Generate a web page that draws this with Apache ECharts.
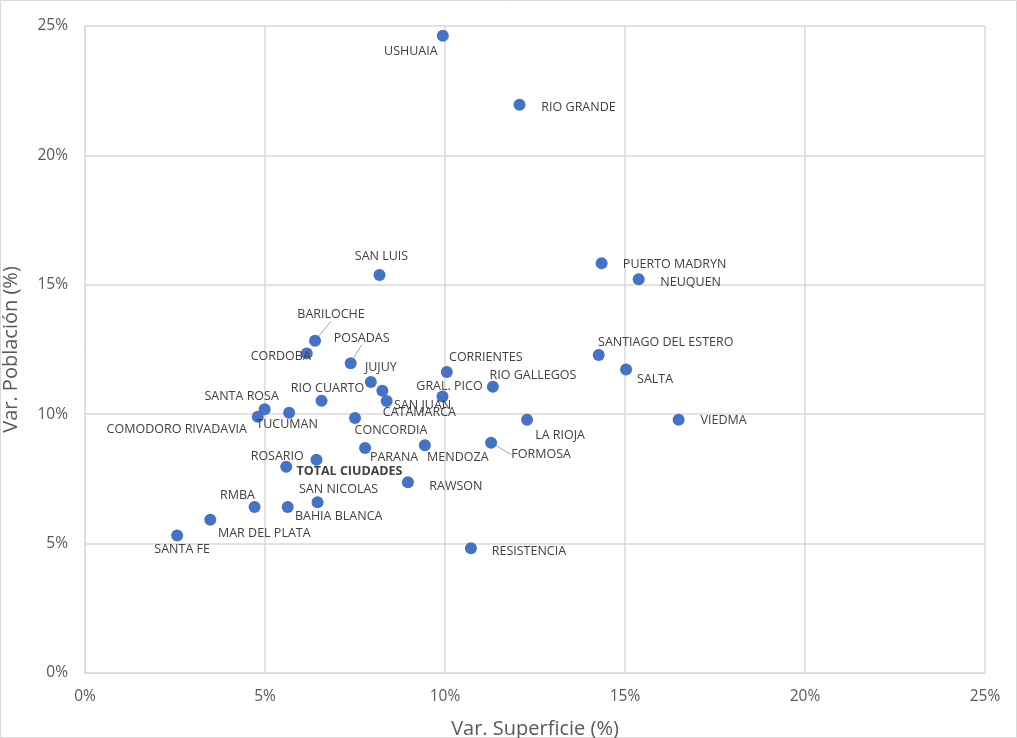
<!DOCTYPE html>
<html>
<head>
<meta charset="utf-8">
<script src="https://cdn.jsdelivr.net/npm/echarts@6/dist/echarts.min.js"></script>
<style>
  html, body { margin: 0; padding: 0; background: #fff; }
  #chart { width: 1017px; height: 738px; }
</style>
</head>
<body>
<div id="chart"></div>
<script>
// ciudades y variaciones (%)
var ciudades = ['USHUAIA', 'RIO GRANDE', 'SAN LUIS', 'PUERTO MADRYN', 'NEUQUEN',
    'BARILOCHE', 'CORDOBA', 'POSADAS', 'JUJUY', 'CATAMARCA', 'SAN JUAN', 'GRAL. PICO',
    'CORRIENTES', 'RIO GALLEGOS', 'RIO CUARTO', 'SANTA ROSA', 'COMODORO RIVADAVIA',
    'TUCUMAN', 'CONCORDIA', 'PARANA', 'MENDOZA', 'FORMOSA', 'TOTAL CIUDADES', 'ROSARIO',
    'RAWSON', 'SAN NICOLAS', 'BAHIA BLANCA', 'RMBA', 'MAR DEL PLATA', 'SANTA FE',
    'RESISTENCIA', 'SANTIAGO DEL ESTERO', 'SALTA', 'LA RIOJA', 'VIEDMA'];
var varSuperficie = [9.94, 12.07, 8.18, 14.35, 15.38,
    6.39, 6.16, 7.38, 7.94, 8.26, 8.38, 9.93,
    10.05, 11.33, 6.57, 4.99, 4.80,
    5.67, 7.50, 7.78, 9.44, 11.28, 6.43, 5.59,
    8.97, 6.46, 5.63, 4.71, 3.48, 2.56,
    10.72, 14.27, 15.03, 12.28, 16.49];
var varPoblacion = [24.62, 21.96, 15.38, 15.83, 15.21,
    12.84, 12.35, 11.97, 11.24, 10.91, 10.51, 10.68,
    11.63, 11.06, 10.52, 10.19, 9.90,
    10.06, 9.85, 8.69, 8.80, 8.90, 8.24, 7.97,
    7.37, 6.60, 6.41, 6.41, 5.92, 5.31,
    4.82, 12.29, 11.73, 9.79, 9.79];
var xTicks = [0, 5, 10, 15, 20, 25];
var yTicks = [0, 5, 10, 15, 20, 25];

// desplazamiento de cada etiqueta respecto del punto (px)
var labelOffsets = [[-32, 16], [59, 3], [2, -19], [73, 1], [52, 3],
    [16, -26], [-26, 3], [11, -25], [10, -15], [37, 22], [36, 4], [7, -10],
    [39, -15], [40, -11], [6, -12], [-23, -13], [-81, 13],
    [-2, 12], [36, 12], [29, 9], [33, 12], [50, 12], [33, 12], [-9, -10],
    [48, 4], [21, -13], [51, 9], [-17, -12], [54, 14], [5, 14],
    [58, 3], [67, -12], [29, 10], [33, 16], [45, 1]];
var conGuia = ['BARILOCHE', 'POSADAS', 'FORMOSA'];

var puntos = [];
for (var i = 0; i < ciudades.length; i++) {
    var p = {
        name: ciudades[i],
        value: [varSuperficie[i], varPoblacion[i]]
    };
    if (ciudades[i] == 'TOTAL CIUDADES') {
        p.label = { fontWeight: 'bold' };
    }
    if (conGuia.indexOf(ciudades[i]) >= 0) {
        p.labelLine = { show: true };
    }
    puntos.push(p);
}

var myChart = echarts.init(document.getElementById('chart'));
var option = {
    backgroundColor: '#ffffff',
    animation: false,
    textStyle: { fontFamily: 'Open Sans' },
    graphic: [{
        type: 'rect',
        shape: { x: 0.5, y: 0.5, width: 1016, height: 737 },
        style: { fill: 'none', stroke: '#d9d9d9', lineWidth: 1 },
        silent: true
    }],
    grid: { left: 85, right: 32, top: 26, bottom: 65, outerBoundsMode: 'none' },
    xAxis: {
        type: 'value',
        min: xTicks[0],
        max: xTicks[xTicks.length - 1],
        interval: 5,
        name: 'Var. Superficie (%)',
        nameLocation: 'middle',
        nameGap: 46,
        nameTextStyle: { fontSize: 20, color: '#595959' },
        axisLine: { show: true, lineStyle: { color: '#d9d9d9' } },
        axisTick: { show: false },
        axisLabel: { formatter: '{value}%', fontSize: 15.5, color: '#595959', margin: 16 },
        splitLine: { show: true, lineStyle: { color: '#d9d9d9', width: 1.5 } }
    },
    yAxis: {
        type: 'value',
        min: yTicks[0],
        max: yTicks[yTicks.length - 1],
        interval: 5,
        name: 'Var. Población (%)',
        nameLocation: 'middle',
        nameGap: 64,
        nameTextStyle: { fontSize: 20, color: '#595959' },
        axisLine: { show: true, lineStyle: { color: '#d9d9d9' } },
        axisTick: { show: false },
        axisLabel: { formatter: '{value}%', fontSize: 15.5, color: '#595959', margin: 17 },
        splitLine: { show: true, lineStyle: { color: '#d9d9d9', width: 1.5 } }
    },
    series: [{
        type: 'scatter',
        symbolSize: 12,
        itemStyle: { color: '#4472C4', opacity: 1 },
        data: puntos,
        label: {
            show: true,
            position: 'inside',
            formatter: '{b}',
            fontSize: 12.5,
            color: '#404040',
            fontFamily: 'Open Sans'
        },
        labelLine: { show: false, lineStyle: { color: '#a6a6a6', width: 1 } },
        labelLayout: function (params) {
            var o = labelOffsets[params.dataIndex];
            return { dx: o[0], dy: o[1] };
        }
    }]
};
myChart.setOption(option);
window.onresize = myChart.resize;
</script>
</body>
</html>
